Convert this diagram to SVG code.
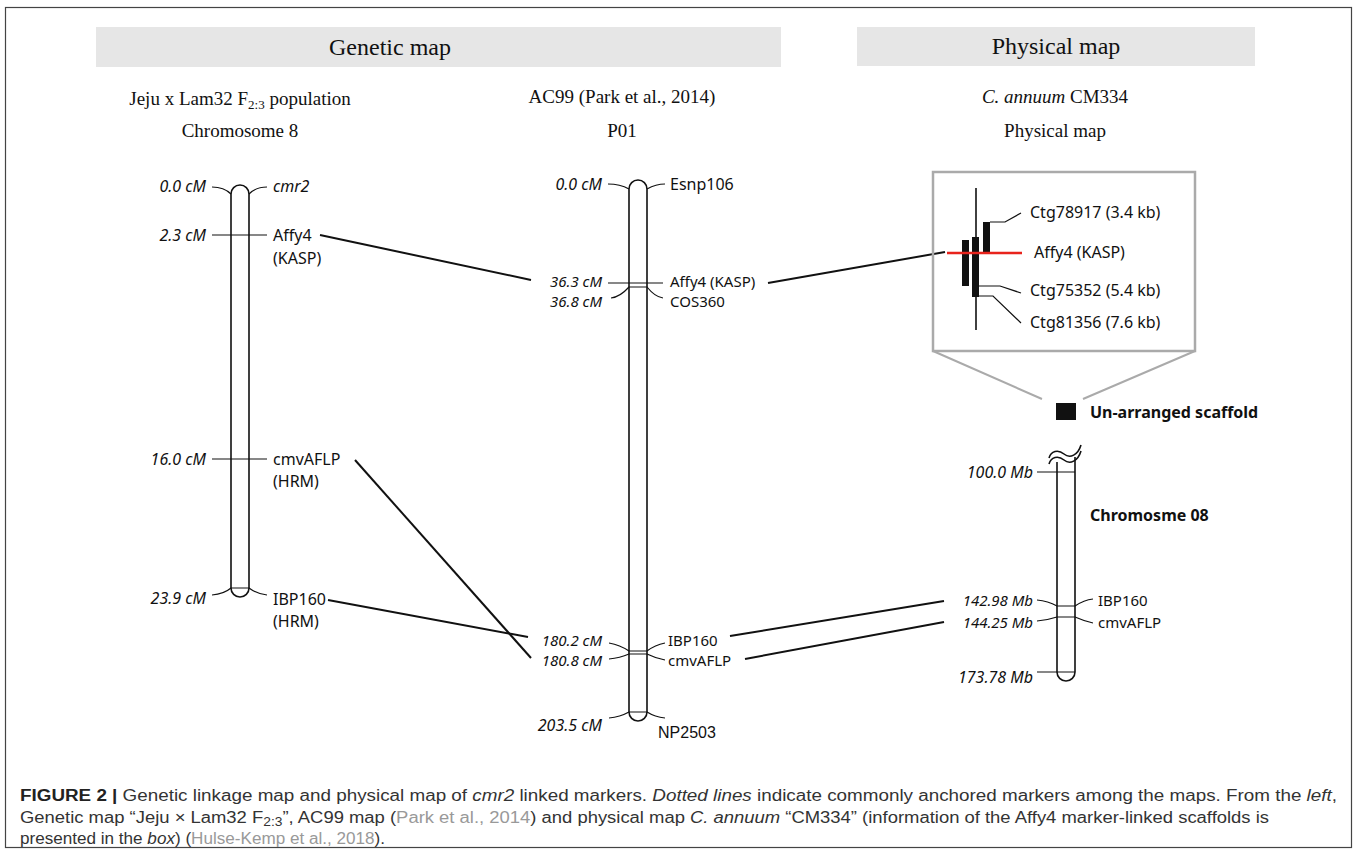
<svg xmlns="http://www.w3.org/2000/svg" width="1358" height="851" viewBox="0 0 1358 851">
<style>
.lbl{font-family:"Noto Sans","Open Sans",sans-serif;font-size:16px;fill:#111}
.it{font-family:"Noto Sans","Open Sans",sans-serif;font-size:16px;font-style:italic;fill:#111}
.sm{font-size:15px}
.bold{font-family:"Noto Sans","Open Sans",sans-serif;font-size:16px;font-weight:bold;fill:#111}
.hdr{font-family:"Liberation Serif",serif;font-size:24px;fill:#111}
.sub{font-family:"Liberation Serif",serif;font-size:19px;fill:#111}
.chr{fill:#fff;stroke:#111;stroke-width:1.6}
.tk{fill:none;stroke:#111;stroke-width:1.2}
.con{stroke:#111;stroke-width:2;fill:none}
.cap{font-family:"Liberation Sans",Arial,sans-serif;font-size:16px;fill:#333}
.cite{fill:#999}
</style>
<rect x="5.5" y="7.5" width="1346" height="840" fill="#fff" stroke="#444" stroke-width="1.2"/>
<g id="headers">
<rect x="96" y="27" width="685" height="40" fill="#e6e6e6"/>
<text class="hdr" x="390" y="55" text-anchor="middle">Genetic map</text>
<rect x="857" y="27" width="398" height="39" fill="#e6e6e6"/>
<text class="hdr" x="1056" y="54" text-anchor="middle">Physical map</text>
<text class="sub" x="240" y="105" text-anchor="middle">Jeju x Lam32 F<tspan dy="4" font-size="13">2:3</tspan><tspan dy="-4"> population</tspan></text>
<text class="sub" x="240" y="137" text-anchor="middle">Chromosome 8</text>
<text class="sub" x="622" y="103" text-anchor="middle">AC99 (Park et al., 2014)</text>
<text class="sub" x="622" y="137" text-anchor="middle">P01</text>
<text class="sub" x="1055" y="103" text-anchor="middle"><tspan font-style="italic">C. annuum</tspan> CM334</text>
<text class="sub" x="1055" y="137" text-anchor="middle">Physical map</text>
</g>
<g id="connectors">
<line class="con" x1="320" y1="235" x2="531" y2="280"/>
<line class="con" x1="355" y1="460" x2="531" y2="658"/>
<line class="con" x1="328" y1="600" x2="528" y2="637"/>
<line class="con" x1="768" y1="283" x2="945" y2="252"/>
<line class="con" x1="730" y1="636" x2="944" y2="601"/>
<line class="con" x1="745" y1="659" x2="944" y2="622"/>
</g>
<g id="chr-jeju">
<path class="chr" d="M231,194 A9,9 0 0 1 249,194 V588 A9,9 0 0 1 231,588 Z"/>
<path class="tk" d="M212,187 Q224,187 231,194 M249,194 Q256,187 267,187 M212,235 H267 M212,459 H267 M212,595 Q224,594 231,588 H249 Q257,594 267,595"/>
<text class="it" x="206" y="192" text-anchor="end">0.0 cM</text>
<text class="it" x="273" y="192">cmr2</text>
<text class="it" x="206" y="241" text-anchor="end">2.3 cM</text>
<text class="lbl" x="273" y="241">Affy4</text>
<text class="lbl" x="273" y="264">(KASP)</text>
<text class="it" x="206" y="465" text-anchor="end">16.0 cM</text>
<text class="lbl" x="273" y="465">cmvAFLP</text>
<text class="lbl" x="273" y="487">(HRM)</text>
<text class="it" x="206" y="604" text-anchor="end">23.9 cM</text>
<text class="lbl" x="273" y="605">IBP160</text>
<text class="lbl" x="273" y="627">(HRM)</text>
</g>
<g id="chr-ac99">
<path class="chr" d="M629,189 A9,9 0 0 1 647,189 V712 A9,9 0 0 1 629,712 Z"/>
<path class="tk" d="M608,184 Q620,184 629,189 M647,189 Q656,184 665,184 M608,283 H663 M611,298 Q620,297 629,287 H647 Q655,297 663,298 M609,643 Q620,645 629,651 H647 Q655,645 665,643 M609,659 Q620,658 629,654 H647 Q655,658 665,660 M609,718 Q620,717 629,712 H647 Q655,717 665,718"/>
<text class="it" x="602" y="190" text-anchor="end">0.0 cM</text>
<text class="lbl" x="670" y="190">Esnp106</text>
<text class="it sm" x="602" y="287" text-anchor="end">36.3 cM</text>
<text class="lbl sm" x="670" y="287">Affy4 (KASP)</text>
<text class="it sm" x="602" y="307" text-anchor="end">36.8 cM</text>
<text class="lbl sm" x="670" y="307">COS360</text>
<text class="it sm" x="602" y="646" text-anchor="end">180.2 cM</text>
<text class="lbl sm" x="668" y="646">IBP160</text>
<text class="it sm" x="602" y="666" text-anchor="end">180.8 cM</text>
<text class="lbl sm" x="668" y="666">cmvAFLP</text>
<text class="it" x="602" y="731" text-anchor="end">203.5 cM</text>
<text x="658" y="738" font-family="Liberation Sans,Arial,sans-serif" font-size="16" fill="#111">NP2503</text>
</g>
<g id="scaffold-box">
<rect x="933" y="172" width="262" height="179" fill="none" stroke="#aaa" stroke-width="2.5"/>
<path d="M933,351 L1042,399 M1195,351 L1083,399" fill="none" stroke="#aaa" stroke-width="2"/>
<line x1="976" y1="188" x2="976" y2="330" stroke="#111" stroke-width="1.6"/>
<rect x="962" y="240" width="7" height="46" fill="#111"/>
<rect x="972" y="237" width="7" height="60" fill="#111"/>
<rect x="983" y="222" width="7" height="30" fill="#111"/>
<line x1="947" y1="253" x2="1022" y2="253" stroke="#e8231c" stroke-width="2.5"/>
<path class="tk" d="M990,222 H1005 L1021,213 M979,286 H1000 L1021,293 M979,296 H993 L1021,323"/>
<text class="lbl" x="1030" y="218">Ctg78917 (3.4 kb)</text>
<text class="lbl" x="1034" y="258">Affy4 (KASP)</text>
<text class="lbl" x="1030" y="296">Ctg75352 (5.4 kb)</text>
<text class="lbl" x="1030" y="328">Ctg81356 (7.6 kb)</text>
</g>
<g id="scaffold">
<rect x="1056" y="403" width="20" height="17" fill="#111"/>
<text class="bold" x="1090" y="418">Un-arranged scaffold</text>
</g>
<g id="chr-cm334">
<path class="chr" d="M1057,462 V672 A9,9 0 0 0 1075,672 V457"/>
<path d="M1049,458 C1051,451 1058,449 1064,454 C1070,459 1078,455 1081,445 M1049,464 C1051,457 1058,455 1064,460 C1070,465 1078,461 1081,451" fill="none" stroke="#111" stroke-width="1.6"/>
<path class="tk" d="M1037,472 H1075 M1037,600 Q1048,601 1057,606 H1075 Q1084,600 1093,599 M1037,621 Q1048,620 1057,617 H1075 Q1084,621 1093,623 M1037,672 H1075"/>
<text class="it" x="1033" y="478" text-anchor="end">100.0 Mb</text>
<text class="bold" x="1090" y="521">Chromosme 08</text>
<text class="it sm" x="1033" y="606" text-anchor="end">142.98 Mb</text>
<text class="lbl sm" x="1098" y="606">IBP160</text>
<text class="it sm" x="1033" y="628" text-anchor="end">144.25 Mb</text>
<text class="lbl sm" x="1098" y="628">cmvAFLP</text>
<text class="it" x="1033" y="683" text-anchor="end">173.78 Mb</text>
</g>
<g id="caption">
<text class="cap" x="20" y="801" textLength="1317" lengthAdjust="spacingAndGlyphs"><tspan font-weight="bold" fill="#222">FIGURE 2 |</tspan> Genetic linkage map and physical map of <tspan font-style="italic">cmr2</tspan> linked markers. <tspan font-style="italic">Dotted lines</tspan> indicate commonly anchored markers among the maps. From the <tspan font-style="italic">left</tspan>,</text>
<text class="cap" x="20" y="823" textLength="1249" lengthAdjust="spacingAndGlyphs">Genetic map “Jeju × Lam32 F<tspan dy="3" font-size="12">2:3</tspan><tspan dy="-3">”, AC99 map (</tspan><tspan class="cite">Park et al., 2014</tspan>) and physical map <tspan font-style="italic">C. annuum</tspan> “CM334” (information of the Affy4 marker-linked scaffolds is</text>
<text class="cap" x="20" y="844" textLength="365" lengthAdjust="spacingAndGlyphs">presented in the <tspan font-style="italic">box</tspan>) (<tspan class="cite">Hulse-Kemp et al., 2018</tspan>).</text>
</g>
</svg>
